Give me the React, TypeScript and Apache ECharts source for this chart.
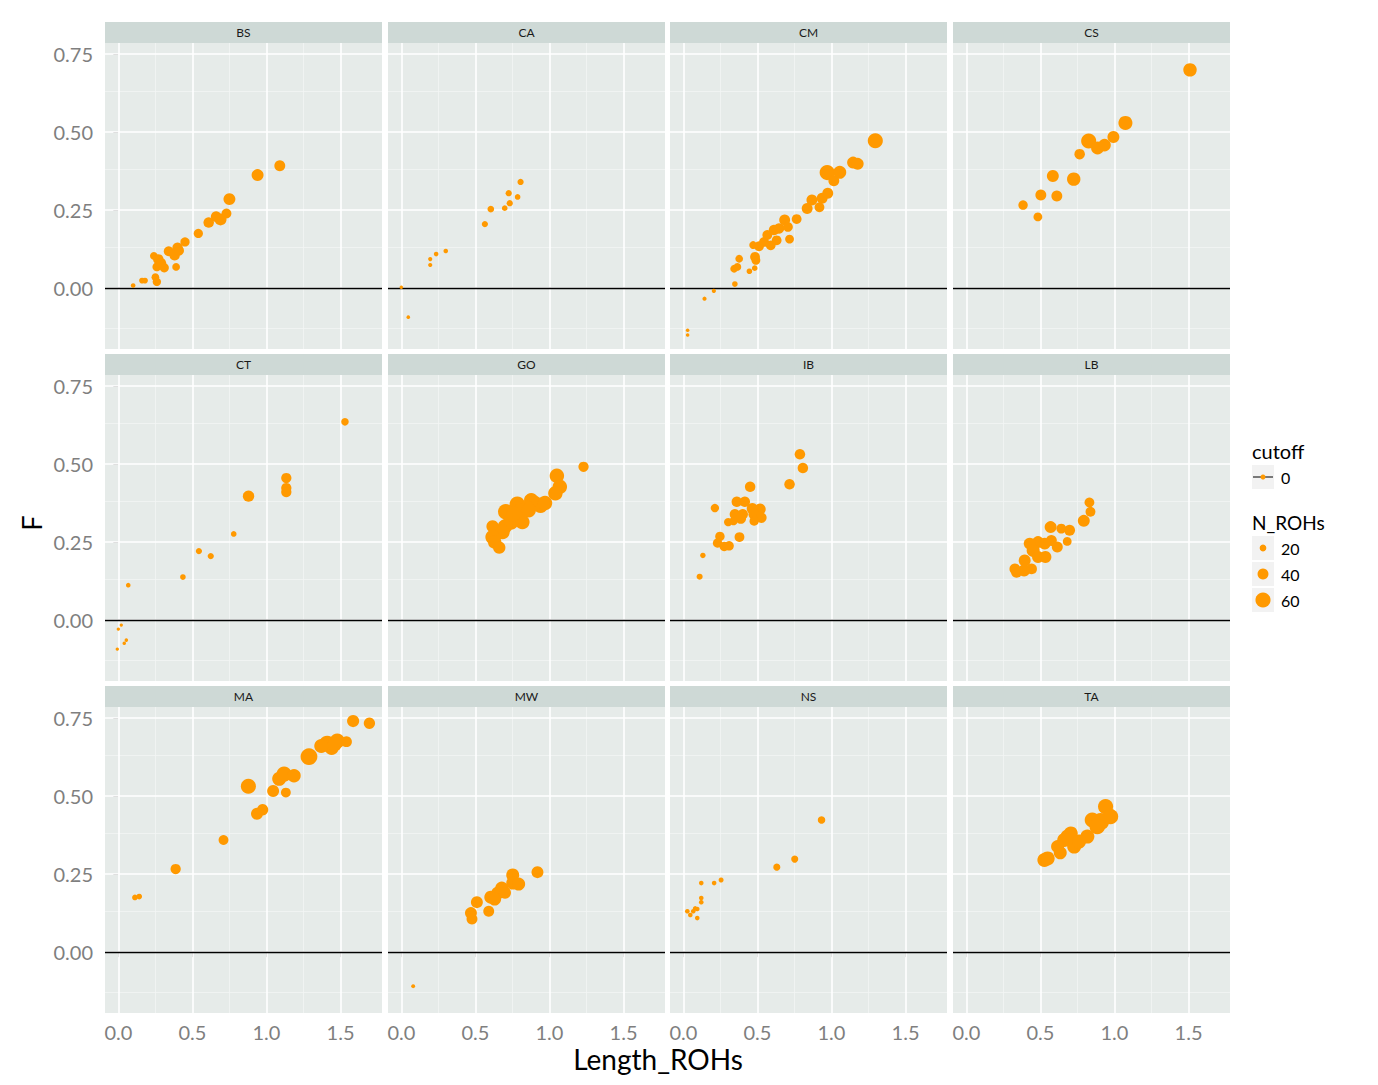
import React, { useEffect, useRef } from "react";
import * as echarts from "echarts";

// Facet names (row-major, 3 rows x 4 columns)
const FACETS = ["BS", "CA", "CM", "CS", "CT", "GO", "IB", "LB", "MA", "MW", "NS", "TA"];

// Each point: [Length_ROHs, F, N_ROHs]
const BS = [
  [0.10, 0.008, 10], [0.16, 0.024, 16], [0.18, 0.024, 16], [0.25, 0.035, 25], [0.26, 0.02, 28],
  [0.26, 0.068, 30], [0.24, 0.103, 25], [0.27, 0.092, 38], [0.29, 0.08, 35], [0.31, 0.065, 32],
  [0.39, 0.068, 25], [0.34, 0.118, 35], [0.38, 0.105, 38], [0.40, 0.129, 38], [0.41, 0.12, 35],
  [0.45, 0.148, 32], [0.54, 0.175, 32], [0.61, 0.21, 38], [0.66, 0.229, 38], [0.69, 0.22, 45],
  [0.73, 0.239, 35], [0.75, 0.285, 45], [0.94, 0.362, 45], [1.09, 0.392, 40],
];
const CA = [
  [0.0, 0.003, 5], [0.047, -0.093, 5], [0.195, 0.093, 8], [0.195, 0.074, 8], [0.235, 0.109, 10],
  [0.30, 0.119, 10], [0.564, 0.205, 18], [0.604, 0.253, 20], [0.698, 0.256, 15], [0.725, 0.304, 18],
  [0.732, 0.272, 18], [0.785, 0.292, 15], [0.805, 0.34, 18],
];
const CM = [
  [0.029, -0.135, 5], [0.029, -0.15, 5], [0.143, -0.034, 8], [0.206, -0.009, 8], [0.348, 0.013, 15],
  [0.343, 0.062, 25], [0.377, 0.094, 25], [0.365, 0.068, 25], [0.446, 0.054, 15], [0.482, 0.064, 15],
  [0.484, 0.10, 35], [0.49, 0.089, 30], [0.471, 0.138, 25], [0.511, 0.134, 35], [0.545, 0.148, 35],
  [0.567, 0.17, 35], [0.59, 0.137, 35], [0.63, 0.153, 35], [0.612, 0.186, 38], [0.646, 0.191, 38],
  [0.684, 0.218, 40], [0.706, 0.196, 35], [0.717, 0.157, 30], [0.765, 0.221, 35], [0.836, 0.255, 40],
  [0.868, 0.282, 40], [0.919, 0.259, 35], [0.937, 0.288, 40], [0.975, 0.304, 40], [0.971, 0.37, 60],
  [1.016, 0.344, 40], [1.056, 0.371, 50], [1.146, 0.402, 45], [1.177, 0.398, 45], [1.296, 0.472, 60],
];
const CS = [
  [0.383, 0.266, 33], [0.483, 0.228, 30], [0.503, 0.298, 40], [0.584, 0.359, 45], [0.611, 0.295, 40],
  [0.725, 0.349, 52], [0.765, 0.429, 38], [0.826, 0.471, 60], [0.886, 0.449, 50], [0.933, 0.458, 48],
  [0.993, 0.484, 45], [1.074, 0.529, 55], [1.51, 0.699, 52],
];
const CT = [
  [0.0, -0.029, 4], [0.02, -0.016, 4], [-0.007, -0.093, 4], [0.04, -0.074, 5], [0.054, -0.064, 5],
  [0.067, 0.112, 10], [0.436, 0.138, 15], [0.544, 0.221, 18], [0.624, 0.205, 18], [0.779, 0.276, 15],
  [0.879, 0.397, 42], [1.134, 0.455, 37], [1.134, 0.423, 37], [1.134, 0.41, 37], [1.53, 0.635, 24],
];
const GO = [
  [1.23, 0.491, 37], [1.05, 0.462, 57], [1.07, 0.427, 57], [1.04, 0.406, 57], [0.94, 0.368, 62],
  [0.90, 0.375, 57], [0.877, 0.384, 57], [0.85, 0.36, 57], [0.783, 0.371, 62], [0.80, 0.35, 57],
  [0.705, 0.347, 62], [0.74, 0.33, 57], [0.817, 0.314, 57], [0.739, 0.314, 62], [0.70, 0.30, 57],
  [0.616, 0.30, 47], [0.65, 0.28, 57], [0.683, 0.282, 57], [0.616, 0.266, 57], [0.63, 0.25, 52],
  [0.661, 0.232, 47], [0.76, 0.34, 57], [0.86, 0.352, 57], [0.97, 0.375, 57],
];
const IB = [
  [0.787, 0.531, 38], [0.807, 0.487, 38], [0.717, 0.435, 38], [0.451, 0.427, 38], [0.213, 0.359, 28],
  [0.361, 0.379, 38], [0.415, 0.379, 38], [0.466, 0.357, 42], [0.518, 0.355, 42], [0.348, 0.339, 38],
  [0.401, 0.339, 38], [0.388, 0.325, 38], [0.303, 0.314, 28], [0.339, 0.317, 28], [0.478, 0.339, 42],
  [0.527, 0.328, 38], [0.478, 0.317, 32], [0.379, 0.266, 35], [0.247, 0.268, 33], [0.231, 0.247, 33],
  [0.276, 0.236, 33], [0.309, 0.238, 33], [0.132, 0.207, 14], [0.11, 0.139, 17],
];
const LB = [
  [0.831, 0.377, 35], [0.838, 0.347, 35], [0.793, 0.318, 45], [0.569, 0.298, 45], [0.641, 0.293, 35],
  [0.697, 0.288, 40], [0.681, 0.252, 30], [0.614, 0.234, 40], [0.574, 0.255, 40], [0.529, 0.245, 45],
  [0.484, 0.25, 45], [0.428, 0.245, 45], [0.451, 0.223, 50], [0.484, 0.202, 45], [0.534, 0.202, 45],
  [0.394, 0.191, 45], [0.44, 0.164, 40], [0.39, 0.159, 45], [0.339, 0.153, 40], [0.328, 0.164, 40],
];
const MA = [
  [0.112, 0.175, 15], [0.141, 0.178, 15], [0.387, 0.266, 37], [0.71, 0.359, 35], [0.878, 0.531, 60],
  [0.936, 0.443, 45], [0.974, 0.456, 42], [1.045, 0.516, 45], [1.131, 0.511, 35], [1.086, 0.555, 55],
  [1.119, 0.57, 60], [1.186, 0.565, 52], [1.287, 0.626, 68], [1.41, 0.667, 65], [1.44, 0.654, 55],
  [1.478, 0.676, 60], [1.54, 0.674, 40], [1.585, 0.74, 46], [1.695, 0.733, 42], [1.37, 0.66, 55],
  [1.46, 0.665, 55],
];
const MW = [
  [0.08, -0.109, 7], [0.47, 0.125, 45], [0.477, 0.106, 40], [0.51, 0.16, 45], [0.59, 0.131, 40],
  [0.604, 0.176, 50], [0.651, 0.189, 50], [0.678, 0.205, 50], [0.752, 0.247, 50], [0.752, 0.221, 50],
  [0.792, 0.218, 50], [0.919, 0.256, 45], [0.63, 0.17, 50], [0.70, 0.19, 45],
];
const NS = [
  [0.027, 0.131, 10], [0.047, 0.119, 10], [0.067, 0.131, 10], [0.094, 0.109, 10], [0.094, 0.138, 10],
  [0.121, 0.16, 10], [0.121, 0.173, 10], [0.121, 0.221, 10], [0.08, 0.14, 10], [0.208, 0.221, 10],
  [0.255, 0.231, 12], [0.631, 0.272, 22], [0.752, 0.298, 22], [0.933, 0.423, 24],
];
const TA = [
  [0.527, 0.295, 55], [0.549, 0.30, 55], [0.634, 0.318, 50], [0.661, 0.359, 55], [0.683, 0.37, 55],
  [0.728, 0.338, 55], [0.705, 0.38, 55], [0.817, 0.37, 55], [0.85, 0.423, 60], [0.906, 0.418, 70],
  [0.94, 0.466, 60], [0.973, 0.434, 62], [0.884, 0.402, 62], [0.761, 0.354, 55], [0.616, 0.338, 50],
];
const FACET_DATA = [BS, CA, CM, CS, CT, GO, IB, LB, MA, MW, NS, TA];

const X_TICKS = [0, 0.5, 1, 1.5];
const X_MINOR = [0.25, 0.75, 1.25];
const Y_TICKS = [0, 0.25, 0.5, 0.75];
const Y_MINOR = [-0.125, 0.125, 0.375, 0.625];
const SIZE_LEGEND = [20, 40, 60];

const COL_LEFT = [105, 388, 670, 953];
const ROW_TOP = [43, 375, 707];
const PW = 277;
const PH = 306;
const STRIP_H = 21;
const ORANGE = "#FF9900";
const FONT = "Lato, 'Open Sans', sans-serif";
const AXIS_GREY = "#7F7F7F";

const sizeOf = (n: number) => 2.5 + 0.21 * n;

export default function App() {
  const ref = useRef<HTMLDivElement>(null);
  useEffect(() => {
    if (!ref.current) return;
    const chart = echarts.init(ref.current, null, { renderer: "svg" });
    const grids: any[] = [];
    const xAxes: any[] = [];
    const yAxes: any[] = [];
    const series: any[] = [];
    const graphics: any[] = [];

    FACETS.forEach((name, i) => {
      const r = Math.floor(i / 4);
      const c = i % 4;
      const left = COL_LEFT[c];
      const top = ROW_TOP[r];
      grids.push({
        left, top, width: PW, height: PH,
        show: true, backgroundColor: "#E6EBE9", borderWidth: 0,
      });
      const bottomRow = r === 2;
      const leftCol = c === 0;
      xAxes.push({
        gridIndex: i, type: "value", min: -0.09, max: 1.78,
        axisLine: { show: false }, splitLine: { show: false },
        axisTick: { show: bottomRow, customValues: X_TICKS, length: 5, lineStyle: { color: AXIS_GREY, width: 1 } },
        axisLabel: {
          show: bottomRow, customValues: X_TICKS, margin: 9, color: AXIS_GREY,
          fontSize: 20, fontFamily: FONT, formatter: (v: number) => v.toFixed(1),
        },
      });
      yAxes.push({
        gridIndex: i, type: "value", min: -0.195, max: 0.785,
        axisLine: { show: false }, splitLine: { show: false },
        axisTick: { show: leftCol, customValues: Y_TICKS, length: 5, lineStyle: { color: AXIS_GREY, width: 1 } },
        axisLabel: {
          show: leftCol, customValues: Y_TICKS, margin: 12, color: AXIS_GREY,
          fontSize: 20, fontFamily: FONT, formatter: (v: number) => v.toFixed(2),
        },
      });
      const minorStyle = { color: "#F3F5F4", width: 0.8, type: "solid" };
      const majorStyle = { color: "#FFFFFF", width: 1.6, type: "solid" };
      series.push({
        type: "scatter", xAxisIndex: i, yAxisIndex: i, data: [], silent: true, z: 1,
        markLine: {
          z: 1,
          silent: true, symbol: ["none", "none"], label: { show: false },
          lineStyle: { type: "solid" },
          emphasis: { disabled: true },
          data: [
            ...X_MINOR.map((v) => ({ xAxis: v, lineStyle: minorStyle })),
            ...Y_MINOR.map((v) => ({ yAxis: v, lineStyle: minorStyle })),
            ...X_TICKS.map((v) => ({ xAxis: v, lineStyle: majorStyle })),
            ...Y_TICKS.map((v) => ({ yAxis: v, lineStyle: majorStyle })),
            { yAxis: 0, lineStyle: { color: "#000000", width: 1.3, type: "solid" } },
          ],
        },
      });
      series.push({
        type: "scatter", xAxisIndex: i, yAxisIndex: i, z: 10,
        data: FACET_DATA[i],
        symbolSize: (v: number[]) => sizeOf(v[2]),
        itemStyle: { color: ORANGE, opacity: 1 },
      });
      graphics.push({
        type: "rect", shape: { x: left, y: top - STRIP_H, width: PW, height: STRIP_H },
        style: { fill: "#CED9D6" }, silent: true,
      });
      graphics.push({
        type: "text", x: left + PW / 2, y: top - STRIP_H / 2,
        style: { text: name, fill: "#1A1A1A", fontSize: 12, fontFamily: FONT, align: "center", verticalAlign: "middle" },
      });
    });

    // axis titles
    graphics.push({
      type: "text", x: 31, y: 523, rotation: Math.PI / 2,
      style: { text: "F", fill: "#000", fontSize: 27, fontFamily: FONT, align: "center", verticalAlign: "middle" },
    });
    graphics.push({
      type: "text", x: 658, y: 1059,
      style: { text: "Length_ROHs", fill: "#000", fontSize: 28, fontFamily: FONT, align: "center", verticalAlign: "middle" },
    });

    // legend: cutoff
    const LX = 1252;
    graphics.push({
      type: "text", x: LX, y: 451,
      style: { text: "cutoff", fill: "#000", fontSize: 20, fontFamily: FONT, align: "left", verticalAlign: "middle" },
    });
    graphics.push({ type: "rect", shape: { x: LX, y: 465, width: 22, height: 24 }, style: { fill: "#F2F2F2" } });
    graphics.push({ type: "line", shape: { x1: LX + 1, y1: 477, x2: LX + 21, y2: 477 }, style: { stroke: "#000", lineWidth: 1 } });
    graphics.push({ type: "circle", shape: { cx: LX + 11, cy: 477, r: 2.5 }, style: { fill: ORANGE } });
    graphics.push({
      type: "text", x: LX + 29, y: 477,
      style: { text: "0", fill: "#000", fontSize: 16, fontFamily: FONT, align: "left", verticalAlign: "middle" },
    });
    // legend: N_ROHs
    graphics.push({
      type: "text", x: LX, y: 522,
      style: { text: "N_ROHs", fill: "#000", fontSize: 19, fontFamily: FONT, align: "left", verticalAlign: "middle" },
    });
    SIZE_LEGEND.forEach((n, k) => {
      const cy = 548 + k * 26;
      graphics.push({ type: "rect", shape: { x: LX, y: cy - 12, width: 22, height: 24 }, style: { fill: "#F2F2F2" } });
      graphics.push({ type: "circle", shape: { cx: LX + 11, cy, r: sizeOf(n) / 2 }, style: { fill: ORANGE } });
      graphics.push({
        type: "text", x: LX + 29, y: cy,
        style: { text: String(n), fill: "#000", fontSize: 16, fontFamily: FONT, align: "left", verticalAlign: "middle" },
      });
    });

    chart.setOption({
      animation: false,
      backgroundColor: "#FFFFFF",
      grid: grids,
      xAxis: xAxes,
      yAxis: yAxes,
      series,
      graphic: graphics,
    });
    return () => chart.dispose();
  }, []);
  return (
    <div
      ref={ref}
      style={{ position: "absolute", left: 0, top: 0, width: 1378, height: 1085 }}
    />
  );
}
